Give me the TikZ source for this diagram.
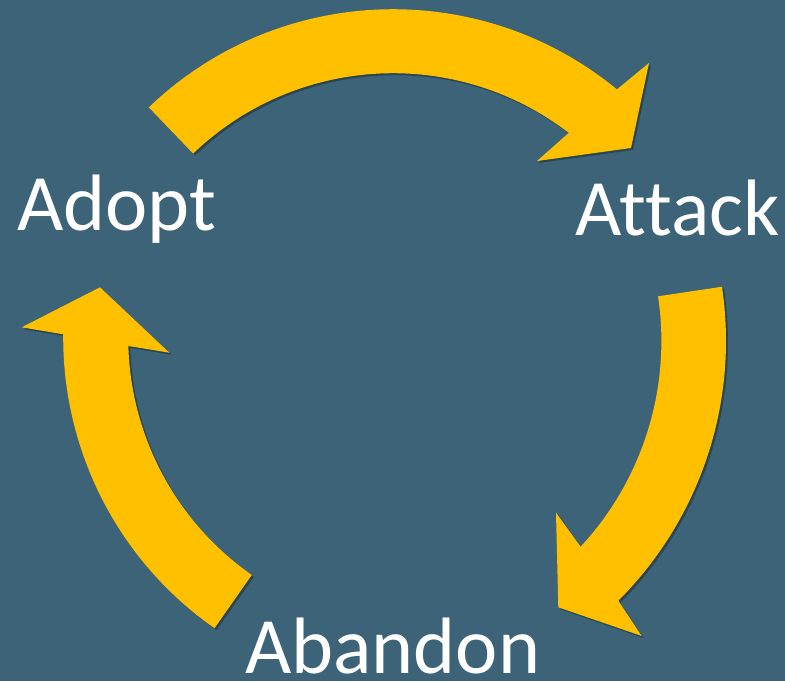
\documentclass[tikz,border=0pt]{standalone}
\usepackage{fontspec}
\setmainfont[Ligatures={NoCommon}]{Carlito}
\usetikzlibrary{shadows,calc}
\definecolor{bg}{RGB}{60,99,120}
\definecolor{arrowyellow}{RGB}{255,192,0}
\begin{document}
\begin{tikzpicture}[x=1pt,y=1pt,
  cyclearrow/.style={fill=arrowyellow, draw=none,
    drop shadow={shadow xshift=2pt, shadow yshift=-2pt, opacity=0.3, fill=black}},
  cyclelabel/.style={text=white, font=\fontsize{80}{96}\selectfont, inner sep=0pt, anchor=base west}]
\fill[bg] (0,0) rectangle (785,681);
\useasboundingbox (0,0) rectangle (785,681);
% top arrow
\path[cyclearrow] ($(393,319)+(133.8:352.8)$) arc[start angle=133.8, end angle=50.6, radius=352.8]
  -- (649,618) -- (631,533) -- (537,520)
  -- ($(393,319)+(52.5:288.8)$) arc[start angle=52.5, end angle=133.8, radius=288.8] -- cycle;
% right arrow
\path[cyclearrow] ($(359,340)+(8.5:367)$) arc[start angle=8.5, end angle=-45.04, radius=367]
  -- (641.7,45) -- (558.3,73.7) -- (556,168.3)
  -- ($(359,340)+(-42.86:302.4)$) arc[start angle=-42.86, end angle=8.5, radius=302.4] -- cycle;
% left arrow
\path[cyclearrow] ($(418,343.4)+(235:354.8)$) arc[start angle=235, end angle=179.47, radius=354.8]
  -- (21.7,353.7) -- (100,393.7) -- (169.3,328.3)
  -- ($(418,343.4)+(181.66:289.8)$) arc[start angle=181.66, end angle=235, radius=289.8] -- cycle;
\node[cyclelabel] (adopt) at (17,450) {Adopt};
\node[cyclelabel] (attack) at (575,445) {Attack};
\node[cyclelabel] (abandon) at (245,8) {Abandon};
\end{tikzpicture}
\end{document}
